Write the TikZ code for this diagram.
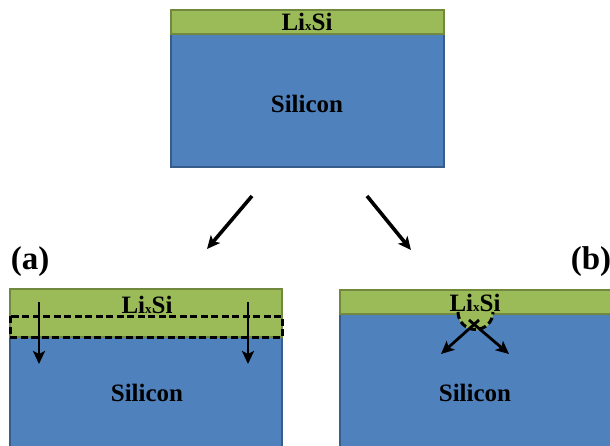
\documentclass[tikz,border=0pt]{standalone}
\usepackage{fontspec}
\setmainfont{Liberation Serif}
\usetikzlibrary{arrows.meta}
\definecolor{grn}{HTML}{9BBB59}
\definecolor{grnb}{HTML}{71893F}
\definecolor{blu}{HTML}{4F81BD}
\definecolor{blub}{HTML}{385D8A}
\newcommand{\lisi}{Li{\fontsize{13}{13}\selectfont x}Si}
\begin{document}
\begin{tikzpicture}[x=1pt,y=-1pt,
  siblock/.style={fill=blu,draw=blub,line width=1.8pt},
  lsblock/.style={fill=grn,draw=grnb,line width=1.8pt},
  txt/.style={font=\fontsize{25}{28}\selectfont\bfseries,inner sep=0pt},
  panel/.style={font=\fontsize{33}{36}\selectfont\bfseries,inner sep=0pt},
  bigarrow/.style={line width=3.6pt,-{Stealth[length=13pt,width=12pt,inset=3pt]}},
  smallarrow/.style={line width=2.8pt,-{Stealth[length=13pt,width=12pt,inset=3pt]}},
  dashline/.style={line width=3pt,dash pattern=on 7pt off 3.5pt}]
\useasboundingbox (0,0) rectangle (610,446);
\clip (0,0) rectangle (610,446);
% top block
\path[siblock] (171,34) rectangle (444,167);
\path[lsblock] (171,10) rectangle (444,34);
\node[txt] (t1) at (307,22) {\lisi};
\node[txt] (t2) at (307,104) {Silicon};
% branching arrows
\coordinate (a1) at (252,196);
\coordinate (a2) at (207,249);
\coordinate (b1) at (367,196);
\coordinate (b2) at (411,250);
\draw[bigarrow] (a1) -- (a2);
\draw[bigarrow] (b1) -- (b2);
% panel labels
\node[panel] (pa) at (30,262) {(a)};
\node[panel] (pb) at (591,262) {(b)};
% block (a)
\path[siblock] (10,337) rectangle (282,470);
\path[lsblock] (10,289) rectangle (282,337);
\draw[dashline] (10,316) rectangle (282,337);
\node[txt] (la) at (147,305) {\lisi};
\node[txt] (sa) at (147,393) {Silicon};
\coordinate (al1) at (39,302);
\coordinate (al2) at (39,364);
\coordinate (ar1) at (248,302);
\coordinate (ar2) at (248,364);
\draw[smallarrow] (al1) -- (al2);
\draw[smallarrow] (ar1) -- (ar2);
% block (b)
\path[siblock] (340,314) rectangle (640,470);
\path[lsblock] (340,290) rectangle (640,314);
\fill[grn] (458,313) arc[start angle=180,end angle=360,radius=17.5pt] -- cycle;
\draw[dashline] (458,312) arc[start angle=180,end angle=360,radius=17.5pt];
\node[txt] (lb) at (475,303) {\lisi};
\node[txt] (sb) at (475,393) {Silicon};
\coordinate (bl1) at (479,320);
\coordinate (bl2) at (441,354);
\coordinate (br1) at (469,320);
\coordinate (br2) at (509,354);
\draw[smallarrow] (bl1) -- (bl2);
\draw[smallarrow] (br1) -- (br2);
\end{tikzpicture}
\end{document}
